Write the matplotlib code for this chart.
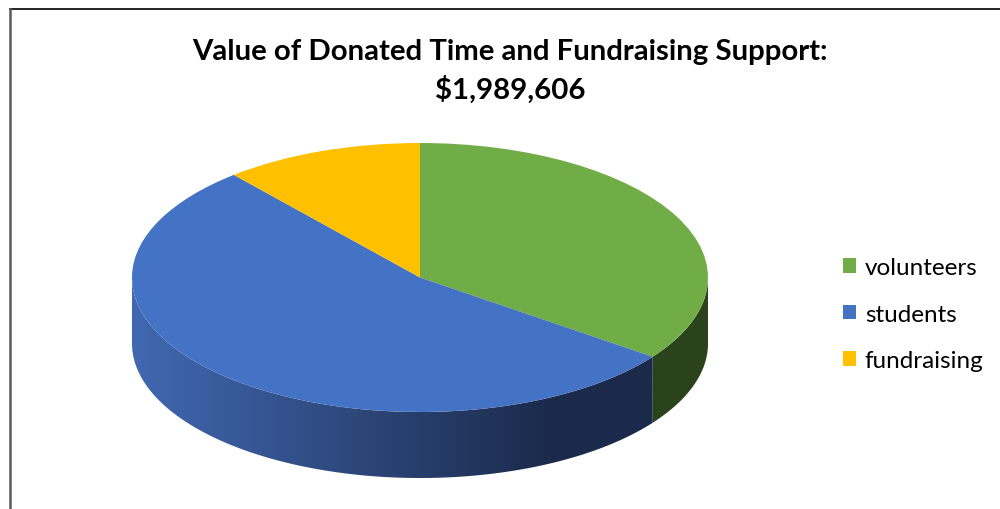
import numpy as np
import matplotlib
import matplotlib.pyplot as plt
from matplotlib.patches import Polygon
from matplotlib.lines import Line2D
from matplotlib.colors import to_rgb

matplotlib.use('agg')
plt.rcParams['font.family'] = ['Lato', 'DejaVu Sans']

# data
labels = ['volunteers', 'students', 'fundraising']
values = [697000, 1070000, 222606]
colors = ['#70ad47', '#4472c4', '#ffc000']

# side wall shading: colour at left edge, colour at the dark side
wall_light = ['#2e4a1f', '#4169b2', '#b38600']
wall_dark = ['#2a431b', '#1b2a4b', '#806000']

W, H = 1000, 510
cx, cy = 420, 278.5      # pie centre in pixels (from top)
rx, ry = 288, 134.5      # ellipse radii in pixels
depth = 66 / ry          # thickness in data units

fig = plt.figure(figsize=(W / 100, H / 100), dpi=100)
ax = fig.add_axes([0, 0, 1, 1])

wedges, _ = ax.pie(values, colors=colors, startangle=90, counterclock=False,
                   radius=1, wedgeprops=dict(linewidth=0, zorder=3))
ax.set_aspect('auto')
ax.set_xlim(-cx / rx, (W - cx) / rx)
ax.set_ylim(-(H - cy) / ry, cy / ry)
ax.axis('off')

# side walls, only the front half (angles between -180 and 0) can be seen
total = sum(values)
start = 90.0
for i, v in enumerate(values):
    end = start - 360.0 * v / total
    lo, hi = max(end, -180.0), min(start, 0.0)
    if hi > lo:
        t = np.radians(np.linspace(lo, hi, 300))
        xs, ys = np.cos(t), np.sin(t)
        pts = np.concatenate([np.column_stack([xs, ys]),
                              np.column_stack([xs[::-1], ys[::-1] - depth])])
        poly = Polygon(pts, closed=True, facecolor='none', edgecolor='none')
        ax.add_patch(poly)
        gx = np.linspace(-1, 1, 600)
        f = np.clip((gx + 1) / 1.45, 0, 1)[:, None]
        c0 = np.array(to_rgb(wall_light[i]))
        c1 = np.array(to_rgb(wall_dark[i]))
        grad = (c0 * (1 - f) + c1 * f)[None, :, :]
        im = ax.imshow(grad, extent=(-1.01, 1.01, -1 - depth - 0.02, 0.02),
                       aspect='auto', zorder=2, interpolation='bilinear')
        im.set_clip_path(poly)
    start = end

# title
fig.text(510 / W, 1 - 52 / H, 'Value of Donated Time and Fundraising Support:',
         ha='center', va='center', fontsize=21.2, fontweight='bold')
fig.text(510 / W, 1 - 90 / H, f'${total:,}',
         ha='center', va='center', fontsize=21.2, fontweight='bold')

# legend
ax.legend(wedges, labels, loc='center left', bbox_to_anchor=(821 / W, 1 - 315 / H),
          bbox_transform=fig.transFigure, frameon=False, fontsize=17.5,
          handlelength=0.55, handleheight=0.55, handletextpad=0.35, labelspacing=1.05)

# chart frame (cropped on the right and bottom)
fig.add_artist(Line2D([9.5 / W, 1], [1 - 9.5 / H, 1 - 9.5 / H], color='black', lw=1.2))
fig.add_artist(Line2D([9.8 / W, 9.8 / W], [0, 1 - 9.5 / H], color='#595959', lw=1.8))

fig.savefig('out.png', dpi=100, facecolor='white')
